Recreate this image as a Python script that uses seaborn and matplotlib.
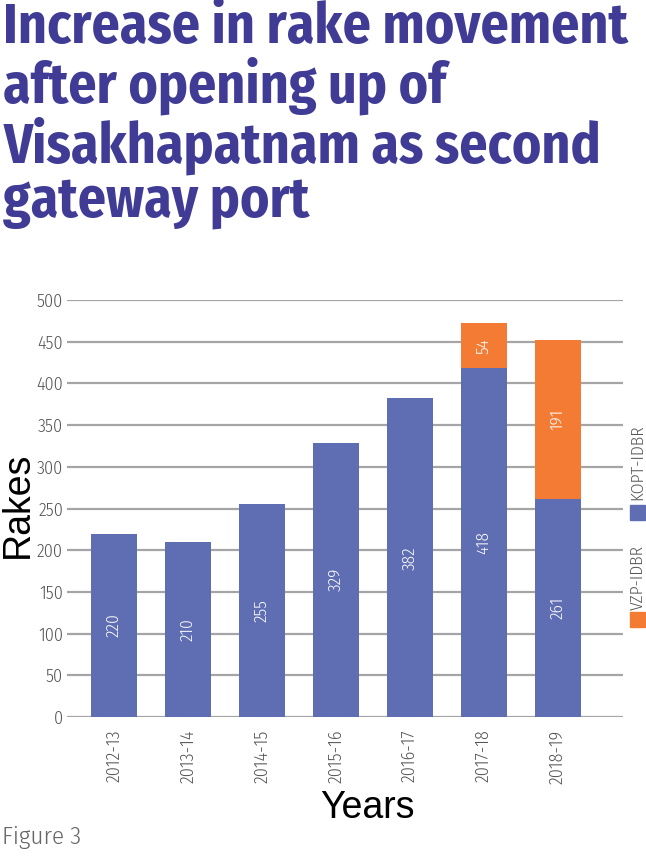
import matplotlib
matplotlib.use("Agg")
import matplotlib.pyplot as plt
import seaborn as sns
import pandas as pd
from matplotlib.patches import Rectangle

years = ['2012-13', '2013-14', '2014-15', '2015-16', '2016-17', '2017-18', '2018-19']
kopt = [220, 210, 255, 329, 382, 418, 261]
vzp = [0, 0, 0, 0, 0, 54, 191]

blue = '#5f6db3'
orange = '#f47b33'
narrow = ['Fira Sans Condensed', 'DejaVu Sans']

sns.set_style('white')
plt.rcParams['font.family'] = narrow
plt.rcParams['font.weight'] = 300

df = pd.DataFrame({'year': years, 'KOPT-IDBR': kopt, 'VZP-IDBR': vzp})
df['total'] = df['KOPT-IDBR'] + df['VZP-IDBR']

fig = plt.figure(figsize=(6.46, 8.56), dpi=100)
ax = fig.add_axes([0.104, 0.1624, 0.86, 0.4871])

# orange = full stack height, blue drawn over it
sns.barplot(data=df, x='year', y='total', color=orange, width=0.62,
            saturation=1, ax=ax, zorder=3, edgecolor='none')
sns.barplot(data=df, x='year', y='KOPT-IDBR', color=blue, width=0.62,
            saturation=1, ax=ax, zorder=4, edgecolor='none')

for i, (k, v) in enumerate(zip(kopt, vzp)):
    ax.text(i, k / 2, str(k), rotation=90, ha='center', va='center',
            color='white', fontsize=12.5, zorder=5)
    if v > 0:
        ax.text(i, k + v / 2, str(v), rotation=90, ha='center', va='center',
                color='white', fontsize=12.5, zorder=5)

ax.set_ylim(0, 500)
ax.set_xlim(-0.635, 6.88)
ax.set_yticks(range(0, 501, 50))
ax.yaxis.grid(True, color='#a5a5a5', linewidth=1.6, zorder=0)
ax.set_axisbelow(True)
for s in ax.spines.values():
    s.set_visible(False)
ax.tick_params(axis='both', length=0, labelcolor='#555555', labelsize=13)
ax.tick_params(axis='y', pad=3)
ax.tick_params(axis='x', pad=9)
plt.setp(ax.get_xticklabels(), rotation=90)
ax.set_xlabel('')
ax.set_ylabel('')

fig.text(0.027, 0.41, 'Rakes', rotation=90, ha='center', va='center',
         fontsize=27, family=['Liberation Sans', 'DejaVu Sans'], weight='normal',
         color='black')
fig.text(0.568, 0.056, 'Years', ha='center', va='center',
         fontsize=27, family=['Liberation Sans', 'DejaVu Sans'], weight='normal',
         color='black')
fig.text(0.003, 0.022, 'Figure 3', ha='left', va='center',
         fontsize=18, color='#666666')

fig.text(0.005, 0.999,
         'Increase in rake movement\nafter opening up of\nVisakhapatnam as second\ngateway port',
         ha='left', va='top', fontsize=40, fontweight='bold', color='#403c96',
         linespacing=1.02)

# legend
fig.text(0.987, 0.416, 'KOPT-IDBR', rotation=90, ha='center', va='bottom',
         fontsize=12.5, color='#555555')
fig.text(0.987, 0.287, 'VZP-IDBR', rotation=90, ha='center', va='bottom',
         fontsize=12.5, color='#555555')
fig.add_artist(Rectangle((0.975, 0.392), 0.023, 0.0175, transform=fig.transFigure,
                         color=blue))
fig.add_artist(Rectangle((0.975, 0.2675), 0.023, 0.0175, transform=fig.transFigure,
                         color=orange))

fig.savefig('out.png', dpi=100)
